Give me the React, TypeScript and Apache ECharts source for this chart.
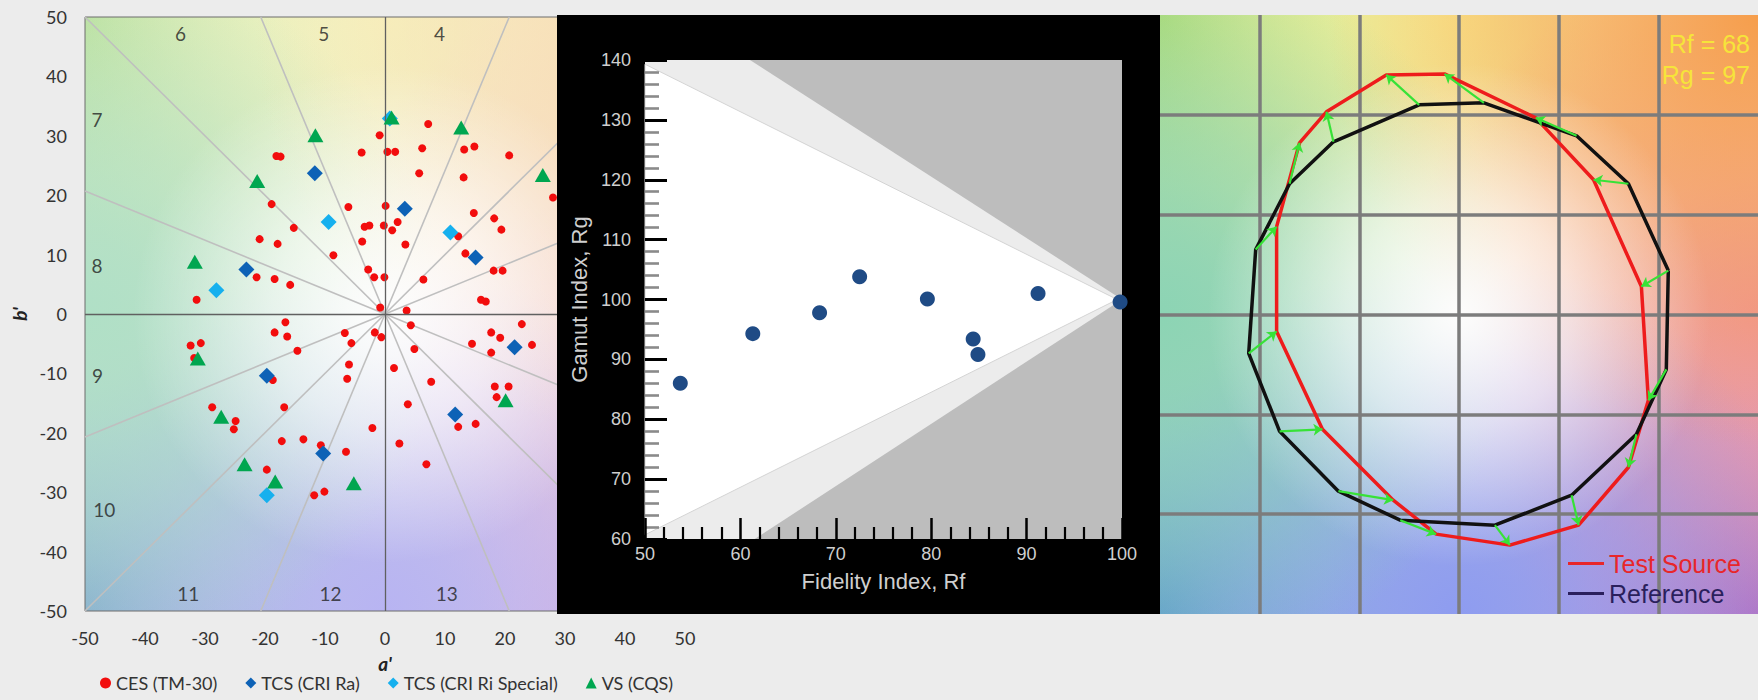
import React, { useEffect, useRef } from "react";
import * as echarts from "echarts";

// ---------------- Left chart (a', b' hue-bin scatter) ----------------
const CES_POINTS: number[][] = [
  [-0.9, 30.1], [7.2, 32.0], [-3.9, 27.2], [0.4, 27.3], [1.7, 27.3], [6.2, 27.9], [-18.1, 26.6], [-17.4, 26.5],
  [13.2, 27.7], [14.9, 28.2], [5.7, 23.7], [13.1, 23.0], [-18.9, 18.5], [-6.1, 18.0], [0.1, 18.2], [2.1, 15.5],
  [-3.4, 14.7], [-2.6, 14.9], [-0.2, 14.9], [1.2, 14.1], [-15.2, 14.5], [-20.9, 12.6], [-17.9, 11.8], [-3.8, 12.2],
  [3.4, 11.7], [-8.6, 9.9], [14.8, 17.0], [18.2, 16.1], [19.4, 14.2], [12.2, 13.1], [13.4, 10.2], [-2.8, 7.5],
  [-1.8, 6.2], [-0.1, 6.2], [6.4, 5.8], [18.1, 7.3], [19.6, 7.3], [16.0, 2.4], [16.8, 2.1], [-21.4, 6.2],
  [-18.4, 5.9], [-15.8, 4.9], [-0.8, 1.1], [3.6, 0.6], [20.7, 26.7], [28.0, 19.6], [-31.4, 2.4],
  [4.3, -1.9], [-16.6, -1.4], [-18.4, -3.1], [-16.3, -3.8], [-14.6, -6.2], [-6.7, -3.2], [-5.6, -4.9], [-1.7, -3.1],
  [-0.6, -3.9], [4.9, -5.9], [-6.0, -8.5], [-6.3, -10.9], [1.5, -9.1], [7.7, -11.4], [-16.8, -15.7], [3.8, -15.2],
  [-18.7, -11.1], [-2.1, -19.2], [-17.2, -21.4], [-13.6, -21.1], [-10.7, -22.1], [-6.5, -23.2], [2.4, -21.8],
  [12.2, -19.0], [15.1, -18.5], [6.9, -25.3], [-19.7, -26.2], [-11.8, -30.5], [-10.1, -29.9], [14.5, -5.0],
  [17.7, -3.1], [19.2, -4.0], [17.7, -6.5], [18.3, -12.2], [20.6, -12.2], [18.6, -14.0], [22.8, -1.7], [24.5, -5.2],
  [-32.4, -5.3], [-30.7, -4.9], [-31.8, -7.4], [-28.8, -15.7], [-24.9, -18.0], [-25.2, -19.4],
];
const TCS_RA_POINTS: number[][] = [
  [-11.7, 23.7], [3.3, 17.7], [15.1, 9.5], [-23.1, 7.5], [-19.7, -10.4], [-10.3, -23.5], [11.7, -16.9], [21.6, -5.6],
];
const TCS_SPECIAL_POINTS: number[][] = [
  [0.8, 32.9], [-9.4, 15.5], [10.9, 13.7], [-28.1, 4.0], [-19.7, -30.5],
];
const VS_POINTS: number[][] = [
  [-11.6, 30.1], [1.1, 33.1], [12.7, 31.4], [-21.3, 22.4], [-31.7, 8.8], [26.3, 23.4], [-31.2, -7.5],
  [-27.3, -17.3], [-23.4, -25.3], [-18.3, -28.2], [-5.2, -28.5], [20.1, -14.5],
];
const BIN_EDGE_DEG = [22.5, 45, 67.5, 112.5, 135, 157.5, 202.5, 225, 247.5, 292.5, 315, 337.5];
const BIN_LABELS = ["4", "5", "6", "7", "8", "9", "10", "11", "12", "13"];
const BIN_LABEL_A = [9.1, -10.2, -34.1, -48.0, -48.0, -47.9, -46.8, -32.8, -9.1, 10.3];
const BIN_LABEL_B = [47.3, 47.3, 47.3, 32.8, 8.1, -10.3, -32.9, -47.0, -47.0, -47.0];
const SERIES_NAMES = ["CES (TM-30)", "TCS (CRI Ra)", "TCS (CRI Ri Special)", "VS (CQS)"];

// ---------------- Middle chart (Rf vs Rg) ----------------
const RF_VALUES = [53.7, 61.3, 68.3, 72.5, 79.6, 84.4, 84.9, 91.2, 99.8];
const RG_VALUES = [86.0, 94.3, 97.8, 103.8, 100.1, 93.4, 90.8, 101.0, 99.6];
const LIGHT_BAND: number[][] = [[50, 140], [61, 140], [100, 100], [61.5, 60], [50, 60]];
const WHITE_AREA: number[][] = [[50, 139.3], [99.5, 100], [50, 60.7]];

// ---------------- Right chart (colour vector graphic) ----------------
const REF_A = [2.10, 1.70, 1.18, 0.25, -0.40, -1.26, -1.70, -2.04, -2.11, -1.80, -1.21, -0.59, 0.36, 1.13, 1.78, 2.08];
const REF_B = [0.44, 1.31, 1.79, 2.12, 2.10, 1.73, 1.31, 0.65, -0.39, -1.17, -1.77, -2.06, -2.11, -1.81, -1.20, -0.55];
const TEST_A = [1.83, 1.35, 0.77, -0.145, -0.73, -1.33, -1.60, -1.83, -1.83, -1.37, -0.66, -0.23, 0.51, 1.20, 1.70, 1.90];
const TEST_B = [0.28, 1.35, 1.97, 2.41, 2.40, 2.03, 1.72, 0.88, -0.17, -1.15, -1.86, -2.20, -2.31, -2.11, -1.53, -0.86];
const RF_TEXT = 68;
const RG_TEXT = 97;

// ---------------- layout / style ----------------
const LG = { left: 85, top: 17, width: 600, height: 594 };
const MID = { x: 557, y: 15, w: 603, h: 599 };
const RIGHT = { x: 1160, y: 15, w: 598, h: 599 };

type RGB = number[];
type Palette = {
  base: RGB; top: RGB; tr: RGB; right: RGB; br: RGB; bottom: RGB; bl: RGB; left: RGB; tl: RGB;
  white: number; rc: number; re: number;
};
const PAL_LEFT: Palette = {
  base: [246, 245, 244], top: [246, 245, 192], tr: [248, 220, 176], right: [246, 204, 208], br: [212, 162, 216],
  bottom: [184, 180, 242], bl: [122, 172, 200], left: [176, 224, 198], tl: [180, 223, 150], white: 0.95, rc: 0.72, re: 0.6,
};
const PAL_RIGHT: Palette = {
  base: [246, 244, 242], top: [248, 242, 150], tr: [246, 158, 76], right: [240, 150, 158], br: [168, 104, 200],
  bottom: [142, 156, 240], bl: [88, 158, 198], left: [140, 212, 180], tl: [158, 215, 110], white: 0.95, rc: 0.72, re: 0.6,
};

function rgba(c: RGB, a: number) {
  return `rgba(${c[0]},${c[1]},${c[2]},${a})`;
}

function hueBackground(x: number, y: number, w: number, h: number, p: Palette, zBase: number) {
  const spots: [number, number, RGB, number][] = [
    [1, 1, p.br, p.rc], [0, 1, p.bl, p.rc], [0, 0, p.tl, p.rc],
    [0.5, 0, p.top, p.re], [1, 0.5, p.right, p.re], [0.5, 1, p.bottom, p.re], [0, 0.5, p.left, p.re],
    [1, 0, p.tr, p.rc],
  ];
  const els: any[] = [
    { type: "rect", silent: true, z: zBase, shape: { x, y, width: w, height: h }, style: { fill: rgba(p.base, 1) } },
  ];
  spots.forEach(([cx, cy, c, r], i) => {
    els.push({
      type: "rect", silent: true, z: zBase + 1 + i, shape: { x, y, width: w, height: h },
      style: {
        fill: {
          type: "radial", x: cx, y: cy, r, global: false,
          colorStops: [
            { offset: 0, color: rgba(c, 1) },
            { offset: 0.5, color: rgba(c, 0.55) },
            { offset: 1, color: rgba(c, 0) },
          ],
        },
      },
    });
  });
  els.push({
    type: "rect", silent: true, z: zBase + 12, shape: { x, y, width: w, height: h },
    style: {
      fill: {
        type: "radial", x: 0.5, y: 0.5, r: 0.42, global: false,
        colorStops: [
          { offset: 0, color: `rgba(255,255,255,${p.white})` },
          { offset: 0.45, color: "rgba(255,255,255,0.6)" },
          { offset: 1, color: "rgba(255,255,255,0)" },
        ],
      },
    },
  });
  return els;
}

function leftOption() {
  const binLines = BIN_EDGE_DEG.map((d) => {
    const t = (d * Math.PI) / 180;
    const c = Math.cos(t);
    const s = Math.sin(t);
    const k = 50 / Math.max(Math.abs(c), Math.abs(s));
    return { coords: [[0, 0], [c * k, s * k]] };
  });
  const labelFont = { color: "#333333", fontSize: 18, fontFamily: "Lato" };
  return {
    animation: false,
    graphic: hueBackground(LG.left, LG.top, LG.width, LG.height, PAL_LEFT, -40),
    grid: { ...LG, show: true, borderColor: "#6c6c6c", borderWidth: 1, backgroundColor: "transparent" },
    xAxis: {
      type: "value", min: -50, max: 50, interval: 10,
      axisLine: { show: false }, axisTick: { show: false }, splitLine: { show: false },
      axisLabel: { ...labelFont, margin: 18 },
      name: "a'", nameLocation: "middle", nameGap: 43, nameMoveOverlap: false,
      nameTextStyle: { color: "#222", fontSize: 19, fontStyle: "italic", fontWeight: "bold", fontFamily: "Lato" },
    },
    yAxis: {
      type: "value", min: -50, max: 50, interval: 10,
      axisLine: { show: false }, axisTick: { show: false }, splitLine: { show: false },
      axisLabel: { ...labelFont, margin: 18 },
      name: "b'", nameLocation: "middle", nameGap: 56,
      nameTextStyle: { color: "#222", fontSize: 19, fontStyle: "italic", fontWeight: "bold", fontFamily: "Lato" },
    },
    legend: {
      left: 95, top: 669, itemWidth: 11, itemHeight: 11, itemGap: 28,
      textStyle: { color: "#333333", fontSize: 18, fontFamily: "Lato" },
      data: [
        { name: SERIES_NAMES[0], icon: "circle" },
        { name: SERIES_NAMES[1], icon: "diamond" },
        { name: SERIES_NAMES[2], icon: "diamond" },
        { name: SERIES_NAMES[3], icon: "triangle" },
      ],
    },
    series: [
      {
        type: "lines", coordinateSystem: "cartesian2d", silent: true, z: 1,
        data: binLines, lineStyle: { color: "#bfbfbf", width: 1.6, opacity: 1 },
        markLine: {
          silent: true, symbol: "none", label: { show: false },
          lineStyle: { color: "#606060", type: "solid", width: 1.3 },
          data: [{ xAxis: 0 }, { yAxis: 0 }],
        },
      },
      {
        type: "scatter", name: "bins", silent: true, symbolSize: 0, z: 2,
        data: BIN_LABELS.map((n, i) => ({ name: n, value: [BIN_LABEL_A[i], BIN_LABEL_B[i]] })),
        label: { show: true, position: "inside", formatter: "{b}", color: "#222", fontSize: 19, fontFamily: "Lato" },
      },
      { type: "scatter", name: SERIES_NAMES[0], data: CES_POINTS, symbol: "circle", symbolSize: 8, z: 3, itemStyle: { color: "#f20d0d", opacity: 1 } },
      { type: "scatter", name: SERIES_NAMES[1], data: TCS_RA_POINTS, symbol: "diamond", symbolSize: 16, z: 4, itemStyle: { color: "#0d62b6", opacity: 1 } },
      { type: "scatter", name: SERIES_NAMES[2], data: TCS_SPECIAL_POINTS, symbol: "diamond", symbolSize: 16, z: 4, itemStyle: { color: "#16b0ee", opacity: 1 } },
      { type: "scatter", name: SERIES_NAMES[3], data: VS_POINTS, symbol: "triangle", symbolSize: [16, 14], z: 5, itemStyle: { color: "#00a650", opacity: 1 } },
    ],
  };
}

function middleOption() {
  const tickLabel = { color: "#cfcfcf", fontSize: 18, fontFamily: "Liberation Sans" };
  return {
    animation: false,
    backgroundColor: "#000000",
    grid: { left: 88, top: 45, right: 38, bottom: 75, show: true, backgroundColor: "#bdbdbd", borderWidth: 0 },
    xAxis: {
      type: "value", min: 50, max: 100, interval: 10, z: 5,
      axisLine: { show: false }, splitLine: { show: false },
      axisTick: { show: true, inside: true, length: 21, lineStyle: { color: "#000", width: 2.5 } },
      minorTick: { show: true, splitNumber: 5, length: 12, lineStyle: { color: "#000", width: 2.2 } },
      axisLabel: { ...tickLabel, margin: 6 },
      name: "Fidelity Index, Rf", nameLocation: "middle", nameGap: 31,
      nameTextStyle: { color: "#cfcfcf", fontSize: 22, fontFamily: "Liberation Sans" },
    },
    yAxis: {
      type: "value", min: 60, max: 140, interval: 10, z: 5,
      axisLine: { show: false }, splitLine: { show: false },
      axisTick: { show: true, inside: true, length: 22, lineStyle: { color: "#000", width: 3 } },
      minorTick: { show: true, splitNumber: 5, length: 14, lineStyle: { color: "#8a8a8a", width: 2.6 } },
      axisLabel: { ...tickLabel, margin: 14 },
      name: "Gamut Index, Rg", nameLocation: "middle", nameGap: 50,
      nameTextStyle: { color: "#cfcfcf", fontSize: 22, fontFamily: "Liberation Sans" },
    },
    series: [
      {
        type: "custom", silent: true, z: 1, data: [[75, 100]],
        renderItem: (_p: any, api: any) => ({
          type: "group",
          children: [
            { type: "polygon", shape: { points: LIGHT_BAND.map((q) => api.coord(q)) }, style: { fill: "#ececec" } },
            { type: "polygon", shape: { points: WHITE_AREA.map((q) => api.coord(q)) }, style: { fill: "#ffffff", stroke: "#d4d4d4", lineWidth: 1 } },
          ],
        }),
      },
      {
        type: "scatter", z: 6, symbolSize: 15, itemStyle: { color: "#1f4b85", opacity: 1 },
        data: RF_VALUES.map((x, i) => [x, RG_VALUES[i]]),
      },
    ],
  };
}

function rightOption() {
  const ref = REF_A.map((a, i) => [a, REF_B[i]]);
  const test = TEST_A.map((a, i) => [a, TEST_B[i]]);
  const arrows = ref.map((r, i) => ({ coords: [r, test[i]] }));
  const axis = {
    type: "value", min: -3, max: 3, interval: 1,
    axisLine: { show: false }, axisTick: { show: false }, axisLabel: { show: false },
    splitLine: { show: true, showMinLine: false, showMaxLine: false, lineStyle: { color: "#7c7c7c", width: 3.5 } },
  };
  const yellow = { color: "#f6e43a", fontSize: 25, fontWeight: "normal", fontFamily: "Liberation Sans" };
  return {
    animation: false,
    graphic: hueBackground(0, 0, RIGHT.w, RIGHT.h, PAL_RIGHT, -40),
    grid: { left: 0, right: 0, top: 0, bottom: 0 },
    xAxis: axis,
    yAxis: axis,
    title: [
      { text: `Rf = ${RF_TEXT}`, right: 8, top: 16, padding: 0, textStyle: yellow },
      { text: `Rg = ${RG_TEXT}`, right: 8, top: 47, padding: 0, textStyle: yellow },
    ],
    legend: {
      orient: "vertical", left: 403, top: 531, itemWidth: 36, itemHeight: 3, itemGap: 5, icon: "rect",
      textStyle: { fontSize: 25, fontFamily: "Liberation Sans" },
      data: [
        { name: "Test Source", textStyle: { color: "#e8262a" }, itemStyle: { color: "#e8262a" } },
        { name: "Reference", textStyle: { color: "#2a1f5c" }, itemStyle: { color: "#2a1f5c" } },
      ],
    },
    series: [
      {
        name: "Test Source", type: "line", data: [...test, test[0]], symbol: "none", z: 3,
        lineStyle: { color: "#ee1c1c", width: 3.5 }, itemStyle: { color: "#ee1c1c" },
      },
      {
        name: "Reference", type: "line", data: [...ref, ref[0]], symbol: "none", z: 4,
        lineStyle: { color: "#111111", width: 3.5 }, itemStyle: { color: "#111111" },
      },
      {
        type: "lines", coordinateSystem: "cartesian2d", silent: true, z: 6, data: arrows,
        symbol: ["none", "arrow"], symbolSize: 9,
        lineStyle: { color: "#37e237", width: 2.2, opacity: 1 },
      },
    ],
  };
}

export default function App() {
  const leftRef = useRef<HTMLDivElement>(null);
  const midRef = useRef<HTMLDivElement>(null);
  const rightRef = useRef<HTMLDivElement>(null);

  useEffect(() => {
    const charts: any[] = [];
    if (leftRef.current) {
      const c = echarts.init(leftRef.current, null, { renderer: "svg" });
      c.setOption(leftOption() as any);
      charts.push(c);
    }
    if (midRef.current) {
      const c = echarts.init(midRef.current, null, { renderer: "svg" });
      c.setOption(middleOption() as any);
      charts.push(c);
    }
    if (rightRef.current) {
      const c = echarts.init(rightRef.current, null, { renderer: "svg" });
      c.setOption(rightOption() as any);
      charts.push(c);
    }
    return () => charts.forEach((c) => c.dispose());
  }, []);

  return (
    <div style={{ position: "fixed", left: 0, top: 0, width: 1758, height: 700, background: "#ececec", overflow: "hidden" }}>
      <div ref={leftRef} style={{ position: "absolute", left: 0, top: 0, width: 720, height: 700 }} />
      <div ref={midRef} style={{ position: "absolute", left: MID.x, top: MID.y, width: MID.w, height: MID.h, background: "#000" }} />
      <div ref={rightRef} style={{ position: "absolute", left: RIGHT.x, top: RIGHT.y, width: RIGHT.w, height: RIGHT.h }} />
    </div>
  );
}
